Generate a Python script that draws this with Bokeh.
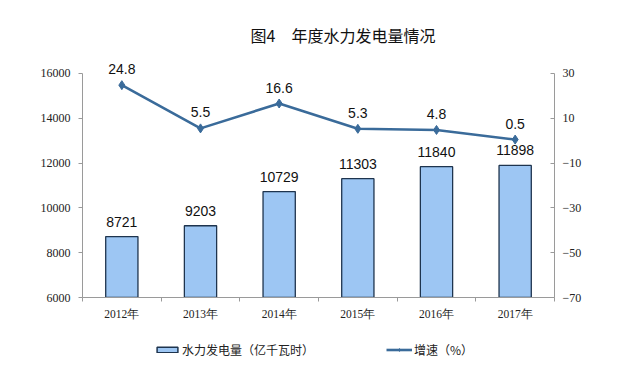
from bokeh.plotting import figure
from bokeh.layouts import column
from bokeh.models import (ColumnDataSource, Range1d, LinearAxis, FixedTicker,
                          Legend, LegendItem, Title)
from bokeh.core.properties import value
from bokeh.embed import file_html
from bokeh.resources import INLINE

years = ["2012年", "2013年", "2014年", "2015年", "2016年", "2017年"]
power = [8721, 9203, 10729, 11303, 11840, 11898]
growth = [24.8, 5.5, 16.6, 5.3, 4.8, 0.5]
left_ticks = [6000, 8000, 10000, 12000, 14000, 16000]
right_ticks = [-70, -50, -30, -10, 10, 30]
series_names = ["水力发电量（亿千瓦时）", "增速（%）"]

BAR_FILL = "#9DC6F3"
BAR_LINE = "#1E344E"
LINE_COL = "#3A6B9A"

xs = [i + 0.5 for i in range(len(years))]
src = ColumnDataSource(dict(
    x=xs, power=power, growth=growth,
    plabel=[str(v) for v in power],
    glabel=[str(v) for v in growth],
))

p = figure(width=616, height=327, output_backend="svg",
           toolbar_location=None,
           x_range=Range1d(0, len(years)), y_range=Range1d(6000, 16714),
           min_border_left=82, min_border_right=62, min_border_top=57,
           min_border_bottom=30)
p.outline_line_color = None
p.xgrid.visible = False
p.ygrid.visible = False
p.background_fill_color = "white"
p.border_fill_color = "white"

p.extra_y_ranges = {"g": Range1d(-70, 37.14)}

p.vbar(x="x", top="power", bottom=6000, width=0.41, source=src,
       fill_color=BAR_FILL, line_color=BAR_LINE, line_width=1.3)
p.line(x="x", y="growth", source=src, y_range_name="g",
       line_color=LINE_COL, line_width=2.6)
p.scatter(x="x", y="growth", source=src, y_range_name="g",
          marker="diamond", size=9, fill_color=LINE_COL, line_color=LINE_COL)

p.text(x="x", y="power", text="plabel", source=src, y_offset=-10,
       text_align="center", text_baseline="bottom",
       text_font=value("Liberation Sans"), text_font_size="14px",
       text_color="#111111")
p.text(x="x", y="growth", text="glabel", source=src, y_range_name="g",
       y_offset=-11, text_align="center", text_baseline="bottom",
       text_font=value("Liberation Sans"), text_font_size="14px",
       text_color="#111111")

# axes styling
xa = p.xaxis[0]
xa.ticker = FixedTicker(ticks=xs, minor_ticks=list(range(0, len(years) + 1)))
xa.major_label_overrides = {x: y for x, y in zip(xs, years)}
xa.major_tick_line_color = None
xa.major_tick_in = 0
xa.major_tick_out = 0
xa.minor_tick_line_color = "#9a9a9a"
xa.minor_tick_in = 0
xa.minor_tick_out = 4
xa.axis_line_color = "#9a9a9a"
xa.major_label_text_font = "Liberation Serif"
xa.major_label_text_font_size = "11.5px"
xa.major_label_text_color = "#222222"
xa.major_label_standoff = 6

ya = p.yaxis[0]
ya.ticker = FixedTicker(ticks=left_ticks, minor_ticks=[])
ya.bounds = (6000, 16000)
ya.axis_line_color = "#9a9a9a"
ya.major_tick_line_color = "#9a9a9a"
ya.major_tick_in = 0
ya.major_tick_out = 4
ya.minor_tick_line_color = None
ya.major_label_text_font = "Liberation Serif"
ya.major_label_text_font_size = "12px"
ya.major_label_text_color = "#222222"
ya.major_label_standoff = 8

ra = LinearAxis(y_range_name="g", ticker=FixedTicker(ticks=right_ticks, minor_ticks=[]))
ra.bounds = (-70, 30)
ra.axis_line_color = "#9a9a9a"
ra.major_tick_line_color = "#9a9a9a"
ra.major_tick_in = 4
ra.major_tick_out = 0
ra.minor_tick_line_color = None
ra.major_label_text_font = "Liberation Serif"
ra.major_label_text_font_size = "12px"
ra.major_label_text_color = "#222222"
ra.major_label_standoff = 8
p.add_layout(ra, "right")

title = Title(text="图4　年度水力发电量情况", align="left", offset=168,
              text_font="Noto Sans CJK SC", text_font_size="16px",
              text_font_style="normal", text_color="#111111", standoff=21)
p.add_layout(title, "above")

# legend strip: a small figure whose renderers are hidden and only
# serve as legend swatches
lf = figure(width=616, height=40, output_backend="svg", toolbar_location=None,
            x_range=Range1d(-20, -19), y_range=Range1d(-20, -19),
            x_axis_location=None, y_axis_location=None, min_border=0)
lf.grid.visible = False
lf.outline_line_color = None
lf.background_fill_color = "white"
lf.border_fill_color = "white"
lb = lf.vbar(x="x", top="power", bottom=6000, width=0.4, source=src,
             fill_color=BAR_FILL, line_color=BAR_LINE, line_width=1.5)
ll = lf.line(x="x", y="growth", source=src, line_color=LINE_COL, line_width=2.6)
lp = lf.scatter(x="x", y="growth", source=src, marker="diamond", size=6,
                fill_color=LINE_COL, line_color=LINE_COL)
for r in (lb, ll, lp):
    r.visible = False
legend = Legend(items=[
    LegendItem(label=series_names[0], renderers=[lb]),
    LegendItem(label=series_names[1], renderers=[ll, lp]),
], orientation="horizontal", location=(72, 9), spacing=72,
    glyph_width=26, glyph_height=7, label_text_font="Noto Sans CJK SC",
    label_text_font_size="12px", label_text_color="#222222",
    border_line_color=None, background_fill_alpha=0,
    inactive_fill_alpha=0, click_policy="none",
    padding=2, label_standoff=2, margin=0)
lf.add_layout(legend, "center")

layout = column(p, lf, spacing=0)
open("out.html", "w").write(file_html(layout, INLINE))
